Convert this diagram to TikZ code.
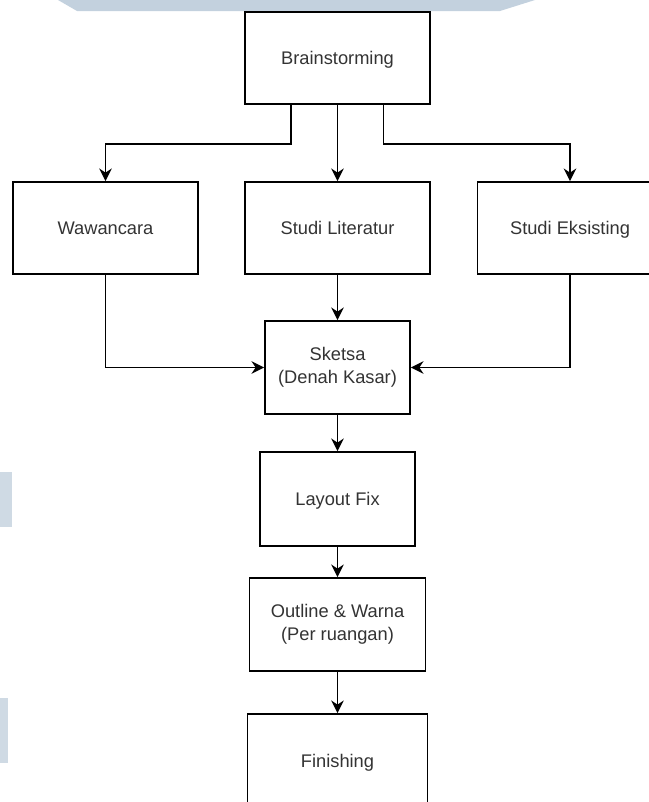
\documentclass[tikz,border=0pt]{standalone}
\usepackage{fontspec}
\setmainfont{Liberation Sans}
\usetikzlibrary{positioning}
\usetikzlibrary{arrows.meta}
\usepackage{xcolor}
\definecolor{markblue}{HTML}{C3D1DE}
\definecolor{boxtext}{HTML}{333333}

\begin{document}
\begin{tikzpicture}[x=0.025cm, y=-0.025cm,
    box/.style={draw, rectangle, line width=1.2pt, align=center, text=boxtext, font=\fontsize{13}{16.4}\selectfont, inner sep=0pt},
    single/.style={box, text depth=0pt},
    arr/.style={-{Stealth[length=9pt, width=9pt]}, line width=1.1pt}]
            \useasboundingbox (0,0) rectangle (649,802);

            % faint marks at the page edges
            \fill[markblue] (58,0) -- (535,0) -- (500,11) -- (77,11) -- cycle;
            \fill[markblue!80] (0,472) rectangle (12,527);
            \fill[markblue!80] (0,698) rectangle (8,763);

            % Start
            \node[single, minimum width=4.625cm, minimum height=2.3cm] (brain) at (337.5,58) {Brainstorming};

            % Data collection
            \node[single, minimum width=4.625cm, minimum height=2.3cm] (waw) at (105.5,228) {Wawancara};
            \node[single, minimum width=4.625cm, minimum height=2.3cm] (lit) at (337.5,228) {Studi Literatur};
            \node[single, minimum width=4.625cm, minimum height=2.3cm] (eks) at (570,228) {Studi Eksisting};

            % Design steps
            \node[box, minimum width=3.625cm, minimum height=2.325cm] (sketsa) at (337.5,367.5) {Sketsa\\(Denah Kasar)};
            \node[single, minimum width=3.875cm, minimum height=2.35cm] (layout) at (337.5,499) {Layout Fix};
            \node[box, minimum width=4.4cm, minimum height=2.325cm] (outline) at (337.5,624.5) {Outline \& Warna\\(Per ruangan)};
            \node[single, minimum width=4.5cm, minimum height=2.325cm] (finish) at (337.5,760.5) {Finishing};

            % Connectors
            \draw[arr] ([xshift=-1.1625cm]brain.south) -- ++(0,39) -| (waw.north);
            \draw[arr] (brain) -- (lit);
            \draw[arr] ([xshift=1.15cm]brain.south) -- ++(0,39) -| (eks.north);
            \draw[arr] (waw.south) |- (sketsa.west);
            \draw[arr] (lit) -- (sketsa);
            \draw[arr] (eks.south) |- (sketsa.east);
            \draw[arr] (sketsa) -- (layout);
            \draw[arr] (layout) -- (outline);
            \draw[arr] (outline) -- (finish);
        \end{tikzpicture}
\end{document}
